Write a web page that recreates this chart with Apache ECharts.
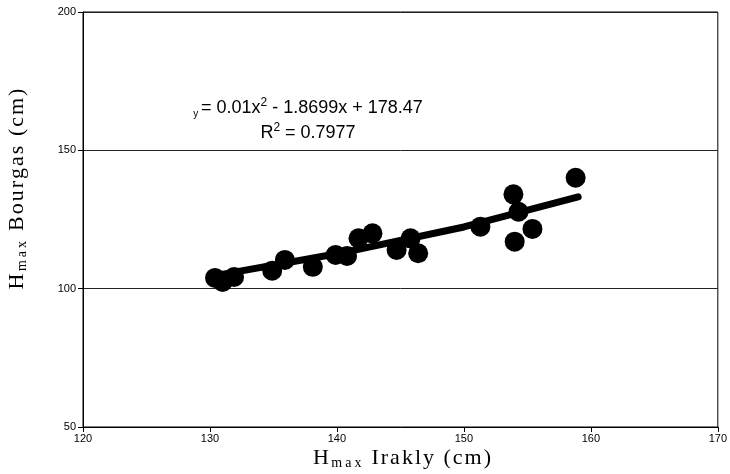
<!DOCTYPE html>
<html>
<head>
<meta charset="utf-8">
<script src="https://cdn.jsdelivr.net/npm/echarts@6/dist/echarts.min.js"></script>
<style>
  html, body { margin: 0; padding: 0; background: #fff; }
  #chart { width: 730px; height: 474px; }
</style>
</head>
<body>
<div id="chart"></div>
<script>
// observed points (Irakly vs Bourgas)
const irakly = [130.4, 131.0, 131.9, 134.9, 135.9, 138.1, 139.9, 140.8, 141.7, 142.8,
  144.7, 145.8, 146.4, 151.3, 153.9, 154.3, 154.0, 155.4, 158.8];
const bourgas = [103.9, 102.4, 104.2, 106.5, 110.4, 107.9, 112.2, 111.8, 118.2, 120.0,
  114.0, 118.2, 112.8, 122.4, 134.1, 127.8, 117.0, 121.6, 140.1];

// trend line
const trendX = [130.4, 140, 150, 159];
const trendY = [104.7, 112.6, 122.3, 133.2];

const xTicks = [120, 130, 140, 150, 160, 170];
const yTicks = [50, 100, 150, 200];

const chart = echarts.init(document.getElementById("chart"));

const tickLabel = {
  color: "#000",
  fontFamily: "Liberation Sans, Arial, sans-serif",
  fontSize: 11
};

// spaced-out serif axis title: one rich token per character
function spaced(style, str) {
  return str.split("").map((c) => "{" + style + "|" + c + "}").join("");
}

const titleRich = {
  h: { fontSize: 22, lineHeight: 24, fontFamily: "Liberation Serif", fill: "#000", padding: [0, 1, 0, 1] },
  b: { fontSize: 14, lineHeight: 14, verticalAlign: "bottom", fontFamily: "Liberation Serif", fill: "#000", padding: [0, 1.5, 0, 1.5] }
};

const eqMain = { fontSize: 18, lineHeight: 22, fontFamily: "Liberation Sans", fill: "#000" };
const eqSup = { fontSize: 12, lineHeight: 12, verticalAlign: "bottom", padding: [0, 0, 10, 0], fontFamily: "Liberation Sans", fill: "#000" };

chart.setOption({
  animation: false,
  grid: {
    left: 83,
    right: 10,
    top: 12,
    bottom: 47,
    show: true,
    borderColor: "#000",
    borderWidth: 1
  },
  xAxis: {
    type: "value",
    min: xTicks[0],
    max: xTicks[xTicks.length - 1],
    interval: 10,
    axisLine: { lineStyle: { color: "#000", width: 1 } },
    axisTick: { show: true, length: 5, lineStyle: { color: "#000" } },
    axisLabel: { ...tickLabel, margin: 6 },
    splitLine: { show: false }
  },
  yAxis: {
    type: "value",
    min: yTicks[0],
    max: yTicks[yTicks.length - 1],
    interval: 50,
    axisLine: { show: true, lineStyle: { color: "#000", width: 1 } },
    axisTick: { show: true, length: 5, lineStyle: { color: "#000" } },
    axisLabel: { ...tickLabel, margin: 7 },
    splitLine: { show: true, lineStyle: { color: "#222", width: 1 } }
  },
  series: [
    {
      name: "data",
      type: "scatter",
      symbol: "circle",
      symbolSize: 20,
      itemStyle: { color: "#000", opacity: 1 },
      data: irakly.map((x, i) => [x, bourgas[i]]),
      z: 2
    },
    {
      name: "trend",
      type: "line",
      showSymbol: false,
      symbol: "none",
      smooth: false,
      lineStyle: { color: "#000", width: 7, cap: "round", join: "round" },
      data: trendX.map((x, i) => [x, trendY[i]]),
      z: 3
    }
  ],
  graphic: [
    {
      type: "text",
      x: 308,
      y: 108,
      style: {
        text: "{s|y }{m|= 0.01x}{p|2}{m| - 1.8699x + 178.47}",
        align: "center",
        verticalAlign: "middle",
        fill: "#000",
        rich: {
          s: { fontSize: 10, lineHeight: 10, verticalAlign: "bottom", fontFamily: "Liberation Sans", fill: "#000" },
          m: eqMain,
          p: eqSup
        }
      }
    },
    {
      type: "text",
      x: 308,
      y: 133,
      style: {
        text: "{m|R}{p|2}{m| = 0.7977}",
        align: "center",
        verticalAlign: "middle",
        fill: "#000",
        rich: { m: eqMain, p: eqSup }
      }
    },
    {
      type: "text",
      x: 402,
      y: 458,
      style: {
        text: spaced("h", "H") + spaced("b", "max") + spaced("h", " Irakly (cm)"),
        align: "center",
        verticalAlign: "middle",
        fill: "#000",
        rich: titleRich
      }
    },
    {
      type: "text",
      x: 17,
      y: 189,
      rotation: Math.PI / 2,
      style: {
        text: spaced("h", "H") + spaced("b", "max") + spaced("h", " Bourgas (cm)"),
        align: "center",
        verticalAlign: "middle",
        fill: "#000",
        rich: titleRich
      }
    }
  ]
});
</script>
</body>
</html>
